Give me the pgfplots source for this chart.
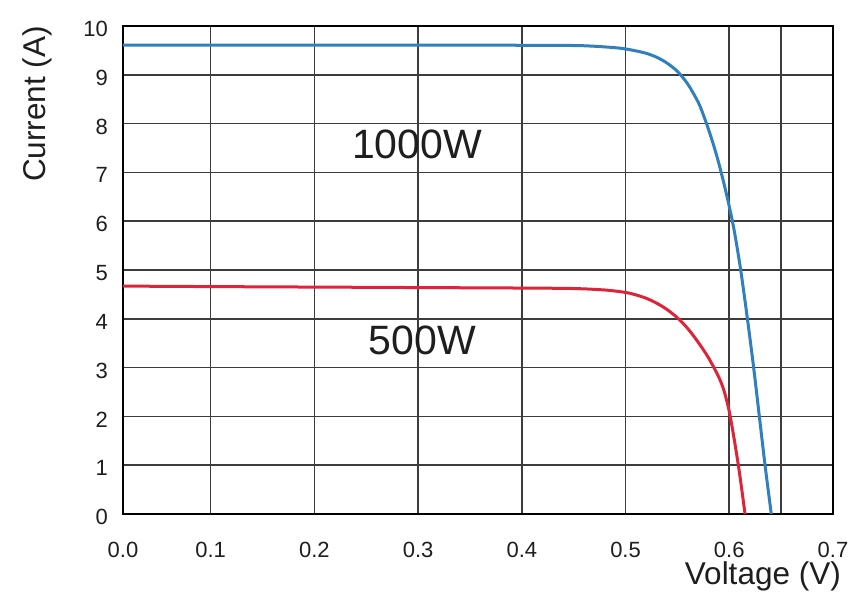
\documentclass[border=0pt]{standalone}
\usepackage{fontspec}
\setmainfont{Liberation Sans}
\usepackage{pgfplots}
\pgfplotsset{compat=1.18}

\definecolor{ivblue}{RGB}{48,128,192}
\definecolor{ivred}{RGB}{222,36,56}
\definecolor{gridgray}{RGB}{60,60,60}
\definecolor{txt}{RGB}{30,30,30}

\begin{document}
\begin{tikzpicture}
% keep the page the size of the reference (1px = 1pt)
\path[use as bounding box] (-123pt,-82pt) rectangle (726pt,514pt);
\begin{axis}[
    at={(0pt,0pt)}, anchor=south west,
    scale only axis,
    width=710pt, height=488pt,
    xmin=0.0155, xmax=0.7,
    ymin=0, ymax=10,
    xtick={0.0155,0.1,0.2,0.3,0.4,0.5,0.6,0.65,0.7},
    xticklabels={0.0,0.1,0.2,0.3,0.4,0.5,0.6,,0.7},
    ytick={0,1,...,10},
    major tick length=0pt,
    grid=major,
    grid style={gridgray, line width=1.6pt},
    axis line style={black, line width=2.6pt},
    /pgf/number format/assume math mode=true,
    tick label style={font=\fontsize{22}{26}\selectfont, text=txt, inner sep=0pt},
    xticklabel style={anchor=center, yshift=-35.5pt},
    yticklabel style={anchor=east, xshift=-15pt, yshift=-3pt},
    xlabel={Voltage (V)},
    ylabel={Current (A)},
    label style={font=\fontsize{31.5}{36}\selectfont, text=txt, inner sep=0pt},
    xlabel style={at={(axis description cs:1,0)}, anchor=base east, xshift=8pt, yshift=-71pt},
    ylabel style={at={(axis description cs:-0.1211,1)}, anchor=east},
]

% 1000 W/m2
\addplot[ivblue, line width=3pt, smooth] coordinates {
    (0.0155,9.61)(0.1,9.61)(0.2,9.61)(0.3,9.61)(0.4,9.605)(0.45,9.60)
    (0.47,9.585)(0.49,9.555)(0.5,9.53)(0.51,9.49)(0.52,9.44)(0.53,9.36)
    (0.54,9.24)(0.55,9.07)(0.56,8.81)(0.57,8.44)(0.575,8.18)(0.58,7.88)
    (0.585,7.55)(0.59,7.18)(0.595,6.76)(0.6,6.3)(0.605,5.78)(0.611,5.0)
    (0.6175,4.0)(0.6235,3.0)(0.629,2.0)(0.6345,1.0)(0.6405,0)
};

% 500 W/m2
\addplot[ivred, line width=3pt, smooth] coordinates {
    (0.0155,4.67)(0.1,4.66)(0.2,4.65)(0.3,4.64)(0.4,4.63)(0.45,4.62)
    (0.48,4.59)(0.5,4.54)(0.51,4.49)(0.52,4.42)(0.53,4.32)(0.54,4.19)
    (0.55,4.02)(0.56,3.8)(0.57,3.52)(0.58,3.2)(0.59,2.8)(0.595,2.52)
    (0.6,2.1)(0.605,1.5)(0.61,0.82)(0.6152,0)
};

\node[font=\fontsize{41}{46}\selectfont, text=txt, inner sep=0pt] at (axis cs:0.299,7.57) {1000W};
\node[font=\fontsize{41}{46}\selectfont, text=txt, inner sep=0pt] at (axis cs:0.304,3.55) {500W};

\end{axis}
\end{tikzpicture}
\end{document}
